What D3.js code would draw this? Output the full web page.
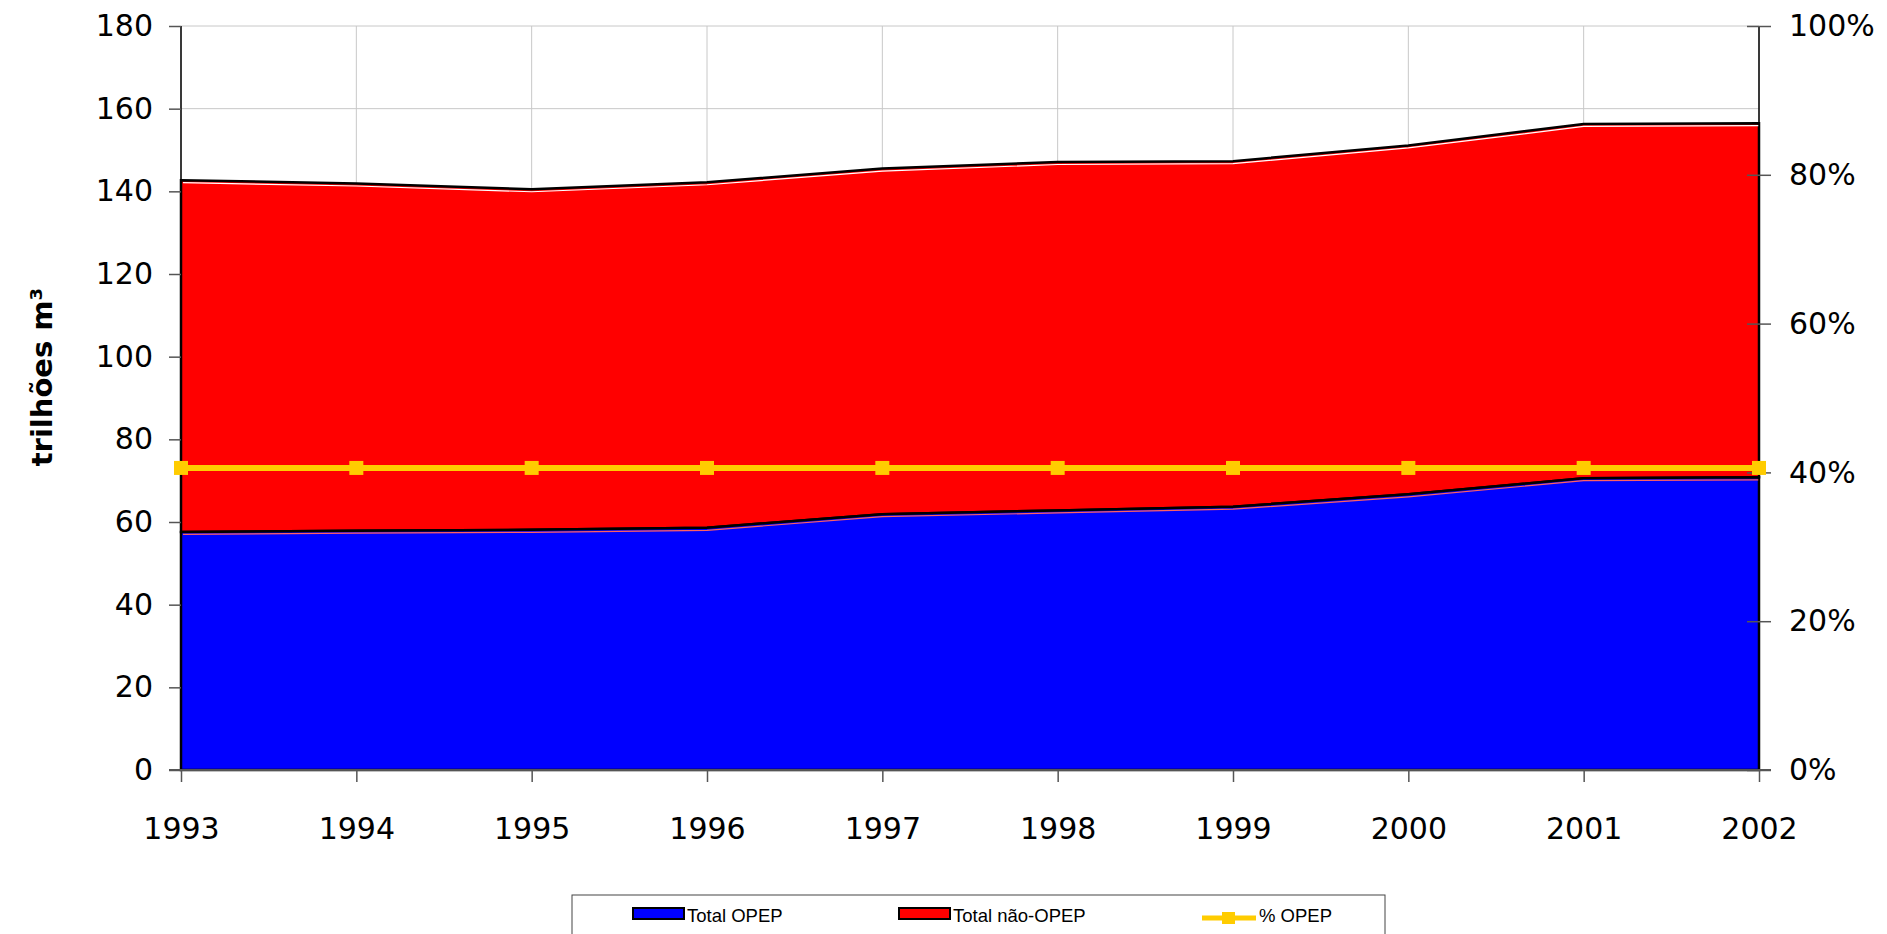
<!DOCTYPE html>
<html>
<head>
<meta charset="utf-8">
<script src="https://cdn.jsdelivr.net/npm/d3@7"></script>
<style>
  body { margin: 0; background: #fff; }
  svg { display: block; }
</style>
</head>
<body>
<div class="chart"></div>
<script>
// data
const years = [1993, 1994, 1995, 1996, 1997, 1998, 1999, 2000, 2001, 2002];
const totalOpep = [57.6, 57.9, 58.1, 58.6, 61.9, 62.8, 63.7, 66.7, 70.6, 70.8];
const totalNaoOpep = [85.1, 84.0, 82.4, 83.6, 83.6, 84.3, 83.6, 84.4, 85.7, 85.7];
const pctOpep = [40.6, 40.6, 40.6, 40.6, 40.6, 40.6, 40.6, 40.6, 40.6, 40.6];
const leftTicks = [0, 20, 40, 60, 80, 100, 120, 140, 160, 180];
const rightTicks = [0, 20, 40, 60, 80, 100];

const width = 1887, height = 934;
const plotLeft = 181, plotRight = 1759, plotTop = 26, plotBottom = 770;

const svg = d3.select(".chart")
  .append("svg")
  .attr("width", width)
  .attr("height", height);

const x = d3.scalePoint().domain(years).range([plotLeft, plotRight]);
const y = d3.scaleLinear().domain([0, 180]).range([plotBottom, plotTop]);
const y2 = d3.scaleLinear().domain([0, 100]).range([plotBottom, plotTop]);

const rows = years.map((yr, i) => ({ year: yr, opep: totalOpep[i], nao: totalNaoOpep[i] }));
const stack = d3.stack().keys(["opep", "nao"]);
const layers = stack(rows);

// grid lines
svg.append("g")
  .selectAll("line")
  .data(leftTicks)
  .join("line")
  .attr("x1", plotLeft).attr("x2", plotRight)
  .attr("y1", (d) => y(d)).attr("y2", (d) => y(d))
  .attr("stroke", "#c8c8c8")
  .attr("stroke-width", 1);

svg.append("g")
  .selectAll("line")
  .data(years)
  .join("line")
  .attr("x1", (d) => x(d)).attr("x2", (d) => x(d))
  .attr("y1", plotTop).attr("y2", plotBottom)
  .attr("stroke", "#c8c8c8")
  .attr("stroke-width", 1);

// stacked areas
const area = d3.area()
  .x((d) => x(d.data.year))
  .y0((d) => y(d[0]))
  .y1((d) => y(d[1]));

const fills = ["#0000ff", "#ff0000"];

svg.append("g")
  .selectAll("path")
  .data(layers.slice().reverse())
  .join("path")
  .attr("d", area)
  .attr("fill", (d) => fills[d.index])
  .attr("stroke", "#000")
  .attr("stroke-width", 2.5)
  .attr("stroke-linejoin", "miter");

// the little light edge under each top line
const edge = d3.line()
  .x((d) => x(d.data.year))
  .y((d) => y(d[1]) + 2.5);

svg.append("g")
  .selectAll("path")
  .data(layers)
  .join("path")
  .attr("d", (d) => edge(d).replace(/^M[\d.]+/, "M" + (plotLeft + 2)))
  .attr("fill", "none")
  .attr("stroke", (d) => (d.index === 1 ? "#ffffff" : "#ff6060"))
  .attr("stroke-width", 1.2);

// axes
const gl = svg.append("g")
  .attr("transform", "translate(" + plotLeft + ",0)")
  .call(d3.axisLeft(y).tickValues(leftTicks).tickSize(12).tickPadding(16));

const gr = svg.append("g")
  .attr("transform", "translate(" + plotRight + ",0)")
  .call(d3.axisRight(y2).tickValues(rightTicks).tickSize(12).tickPadding(18)
    .tickFormat((d) => d + "%"));
gr.selectAll(".tick line").attr("x1", -12);

const gb = svg.append("g")
  .attr("transform", "translate(0," + plotBottom + ")")
  .call(d3.axisBottom(x).tickSize(12).tickPadding(36));

[gl, gr, gb].forEach((g) => {
  g.selectAll(".tick line").attr("stroke", "#555").attr("stroke-width", 1.5);
  g.selectAll("text")
    .attr("font-family", "DejaVu Sans")
    .attr("font-size", 30)
    .attr("fill", "#000");
});
gl.select(".domain").attr("stroke", "#000").attr("stroke-width", 1.5)
  .attr("d", "M0," + plotTop + "V" + plotBottom);
gr.select(".domain").attr("stroke", "#000").attr("stroke-width", 1.5)
  .attr("d", "M0," + plotTop + "V" + plotBottom);
gb.select(".domain").attr("stroke", "#555").attr("stroke-width", 2)
  .attr("d", "M" + (plotLeft - 12) + ",0H" + (plotRight + 12));

// % OPEP line on right scale
const pctLine = d3.line()
  .x((d, i) => x(years[i]))
  .y((d) => y2(d));

svg.append("path")
  .datum(pctOpep)
  .attr("d", pctLine)
  .attr("fill", "none")
  .attr("stroke", "#ffcc00")
  .attr("stroke-width", 6);

svg.append("g")
  .selectAll("rect")
  .data(pctOpep)
  .join("rect")
  .attr("x", (d, i) => x(years[i]) - 7)
  .attr("y", (d) => y2(d) - 7)
  .attr("width", 14)
  .attr("height", 14)
  .attr("fill", "#ffcc00");

// y axis title
svg.append("text")
  .attr("transform", "translate(52,377) rotate(-90)")
  .attr("text-anchor", "middle")
  .attr("font-family", "DejaVu Sans")
  .attr("font-weight", "bold")
  .attr("font-size", 29)
  .text("trilhões m³");

// legend
const legend = svg.append("g");
legend.append("rect")
  .attr("x", 572).attr("y", 895)
  .attr("width", 813).attr("height", 60)
  .attr("fill", "#fff")
  .attr("stroke", "#444")
  .attr("stroke-width", 1);

const legendItems = [
  { label: "Total OPEP", color: "#0000ff", x: 633, type: "box" },
  { label: "Total não-OPEP", color: "#ff0000", x: 899, type: "box" },
  { label: "% OPEP", color: "#ffcc00", x: 1202, type: "line" }
];

legendItems.forEach((it) => {
  if (it.type === "box") {
    legend.append("rect")
      .attr("x", it.x).attr("y", 908)
      .attr("width", 51).attr("height", 11)
      .attr("fill", it.color)
      .attr("stroke", "#000")
      .attr("stroke-width", 2);
  } else {
    legend.append("line")
      .attr("x1", it.x).attr("x2", it.x + 54)
      .attr("y1", 918).attr("y2", 918)
      .attr("stroke", it.color)
      .attr("stroke-width", 5);
    legend.append("rect")
      .attr("x", it.x + 20).attr("y", 912)
      .attr("width", 13).attr("height", 12)
      .attr("fill", it.color);
  }
  legend.append("text")
    .attr("x", it.x + (it.type === "box" ? 54 : 57))
    .attr("y", 922)
    .attr("font-family", "Liberation Sans")
    .attr("font-size", 18.5)
    .text(it.label);
});
</script>
</body>
</html>
